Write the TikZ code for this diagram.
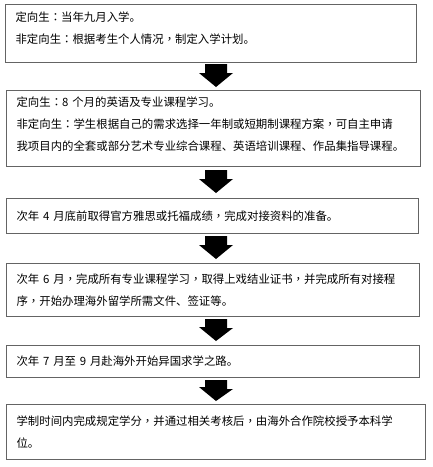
\documentclass[tikz,border=0pt]{standalone}
\usepackage{fontspec}
\setmainfont{Noto Sans CJK SC}
\newfontfamily\tcfont{Noto Sans CJK TC}
\newcommand\tcc{{\tcfont ，}}
\newcommand\tcm{{\tcfont ：}}
\usetikzlibrary{calc}
\tikzset{
  flowbox/.style={draw=boxgray, line width=1.2pt, rectangle, anchor=north west,
    inner xsep=10pt, inner ysep=0pt, align=left,
    font=\fontsize{11.4}{22}\selectfont, text=black},
  blockarrow/.style={fill=black, draw=none}
}
\definecolor{boxgray}{HTML}{646464}
\newcommand\flowarrow[2]{%
  \fill[blockarrow] (#1) ++(-11,0) -- ++(22,0) -- ++(0,9) -- ++(6,0)
    -- ($(#2)$) -- ++(-17,-14) -- ++(6,0) -- cycle;}
\begin{document}
\begin{tikzpicture}[x=1pt,y=-1pt]
\useasboundingbox (0,0) rectangle (433,467);
\fill[white] (0,0) rectangle (433,467);

\node[flowbox, minimum width=411, minimum height=58, text width=391] (b1) at (5,4)
  {定向生\tcm 当年九月入学。\\非定向生\tcm 根据考生个人情况\tcc 制定入学计划。\\[-16pt]\strut};
\node[flowbox, minimum width=414, minimum height=76, text width=394] (b2) at (6,90)
  {定向生\tcm 8 个月的英语及专业课程学习。\\非定向生\tcm 学生根据自己的需求选择一年制或短期制课程方案\tcc 可自主申请\\我项目内的全套或部分艺术专业综合课程、英语培训课程、作品集指导课程。\\[-18pt]\strut};
\node[flowbox, minimum width=412, minimum height=35, text width=392] (b3) at (6,198)
  {次年 4 月底前取得官方雅思或托福成绩\tcc 完成对接资料的准备。};
\node[flowbox, minimum width=413, minimum height=53, text width=393] (b4) at (6,263)
  {次年 6 月\tcc 完成所有专业课程学习\tcc 取得上戏结业证书\tcc 并完成所有对接程\\序\tcc 开始办理海外留学所需文件、签证等。};
\node[flowbox, minimum width=413, minimum height=32, text width=393] (b5) at (6,345)
  {次年 7 月至 9 月赴海外开始异国求学之路。};
\node[flowbox, minimum width=419, minimum height=55, text width=399] (b6) at (6,404)
  {学制时间内完成规定学分\tcc 并通过相关考核后\tcc 由海外合作院校授予本科学\\位。};

\coordinate (a1s) at (216,64);  \coordinate (a1t) at (216,87);
\coordinate (a2s) at (216,170); \coordinate (a2t) at (216,193);
\coordinate (a3s) at (216,236); \coordinate (a3t) at (216,259);
\coordinate (a4s) at (216,319); \coordinate (a4t) at (216,341);
\coordinate (a5s) at (216,380); \coordinate (a5t) at (216,401);
\flowarrow{a1s}{a1t}
\flowarrow{a2s}{a2t}
\flowarrow{a3s}{a3t}
\flowarrow{a4s}{a4t}
\flowarrow{a5s}{a5t}
\end{tikzpicture}
\end{document}
